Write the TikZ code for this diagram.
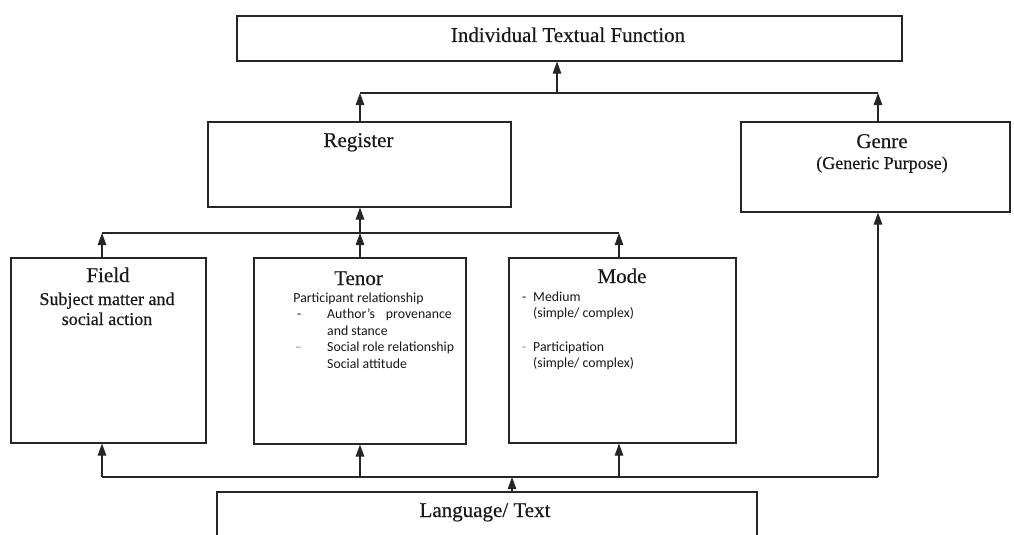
\documentclass[tikz,border=0pt]{standalone}
\usepackage{fontspec}
\setmainfont{Liberation Serif}
\newfontfamily\headfont{Liberation Serif}[FakeBold=0.35]
\newfontfamily\bodyfont{Carlito}
\usetikzlibrary{arrows.meta}
\begin{document}
\begin{tikzpicture}[x=1pt,y=-1pt,
  box/.style={draw=black!85, line width=1.1pt, inner sep=0pt, fill=white},
  txt/.style={inner sep=0pt, text=black!90},
  ttl/.style={txt, font=\headfont\fontsize{21}{25}\selectfont},
  sub/.style={txt, font=\headfont\fontsize{18}{21}\selectfont},
  body/.style={txt, font=\bodyfont\fontsize{13.8}{16}\selectfont},
  bus/.style={draw=black!85, line width=1.1pt},
  arr/.style={bus, -{Triangle[length=12pt,width=8.5pt]}}]
\useasboundingbox (0,0) rectangle (1014,535);
\clip (0,0) rectangle (1014,535);

% boxes
\node[box, minimum width=665pt, minimum height=45pt]  (itf)   at (569.5,38.5) {};
\node[box, minimum width=303pt, minimum height=85pt]  (reg)   at (359.5,164.5) {};
\node[box, minimum width=269pt, minimum height=90pt]  (gen)   at (875.5,167) {};
\node[box, minimum width=195pt, minimum height=185pt] (field) at (108.5,350.5) {};
\node[box, minimum width=212pt, minimum height=186pt] (tenor) at (360,351) {};
\node[box, minimum width=227pt, minimum height=185pt] (mode)  at (622.5,350.5) {};
\node[box, minimum width=540pt, minimum height=80pt]  (lang)  at (487,532) {};

% headings
\node[ttl, anchor=base] (itft)  at (568,42)    {Individual Textual Function};
\node[ttl, anchor=base] (regt)  at (358.5,147) {Register};
\node[ttl, anchor=base] (gent)  at (882,148)   {Genre};
\node[sub, anchor=base] (genp)  at (882,169)   {(Generic Purpose)};
\node[ttl, anchor=base] (fieldt) at (108,282)  {Field};
\node[sub, anchor=base] (fs1)   at (107,305)   {Subject matter and};
\node[sub, anchor=base] (fs2)   at (107,325)   {social action};
\node[ttl, anchor=base] (tenort) at (358.5,285) {Tenor};
\node[ttl, anchor=base] (modet) at (622,283)   {Mode};
\node[ttl, anchor=base] (langt) at (485,517)   {Language/ Text};

% tenor details
\node[body, anchor=base]      (tp)  at (358.5,302) {Participant relationship};
\node[body, anchor=base west] (td1) at (297,318)   {-};
\node[body, anchor=base west] (ta)  at (327,318)   {Author’s};
\node[body, anchor=base east] (tv)  at (452,318)   {provenance};
\node[body, anchor=base west] (ts)  at (327,335)   {and stance};
\node[body, anchor=base west, text=black!45] (td2) at (295,351.5) {–};
\node[body, anchor=base west] (tr)  at (327,351.5) {Social role relationship};
\node[body, anchor=base west] (tat) at (327,368)   {Social attitude};

% mode details
\node[body, anchor=base west] (md1) at (522,301.5) {-};
\node[body, anchor=base west] (mm)  at (533,301.5) {Medium};
\node[body, anchor=base west] (ms1) at (533,317)   {(simple/ complex)};
\node[body, anchor=base west, text=black!45] (md2) at (522,351) {-};
\node[body, anchor=base west] (mp)  at (533,351)   {Participation};
\node[body, anchor=base west] (ms2) at (533,367)   {(simple/ complex)};

% junctions and columns
\coordinate (tbus) at (557,93);
\coordinate (mbus) at (360,233);
\coordinate (bbus) at (512,477);
\coordinate (cf) at (102,0);
\coordinate (ct) at (360,0);
\coordinate (cm) at (619,0);
\coordinate (cg) at (878,0);

% upper level: register and genre feed the textual function
\draw[bus] (ct |- tbus) -- (cg |- tbus);
\draw[arr] (tbus) -- (itf.south -| tbus);
\draw[arr] (reg.north -| ct) -- (ct |- tbus);
\draw[arr] (gen.north -| cg) -- (cg |- tbus);

% middle level: field, tenor, mode feed register
\draw[bus] (cf |- mbus) -- (cm |- mbus);
\draw[arr] (field.north -| cf) -- (cf |- mbus);
\draw[arr] (tenor.north -| ct) -- (mbus);
\draw[arr] (mode.north -| cm) -- (cm |- mbus);
\draw[arr] (mbus) -- (reg.south -| ct);

% lower level: language/text feeds everything
\draw[bus] (cf |- bbus) -- (cg |- bbus);
\draw[arr] (lang.north -| bbus) -- (bbus);
\draw[arr] (cf |- bbus) -- (field.south -| cf);
\draw[arr] (ct |- bbus) -- (tenor.south -| ct);
\draw[arr] (cm |- bbus) -- (mode.south -| cm);
\draw[arr] (cg |- bbus) -- (gen.south -| cg);
\end{tikzpicture}
\end{document}
